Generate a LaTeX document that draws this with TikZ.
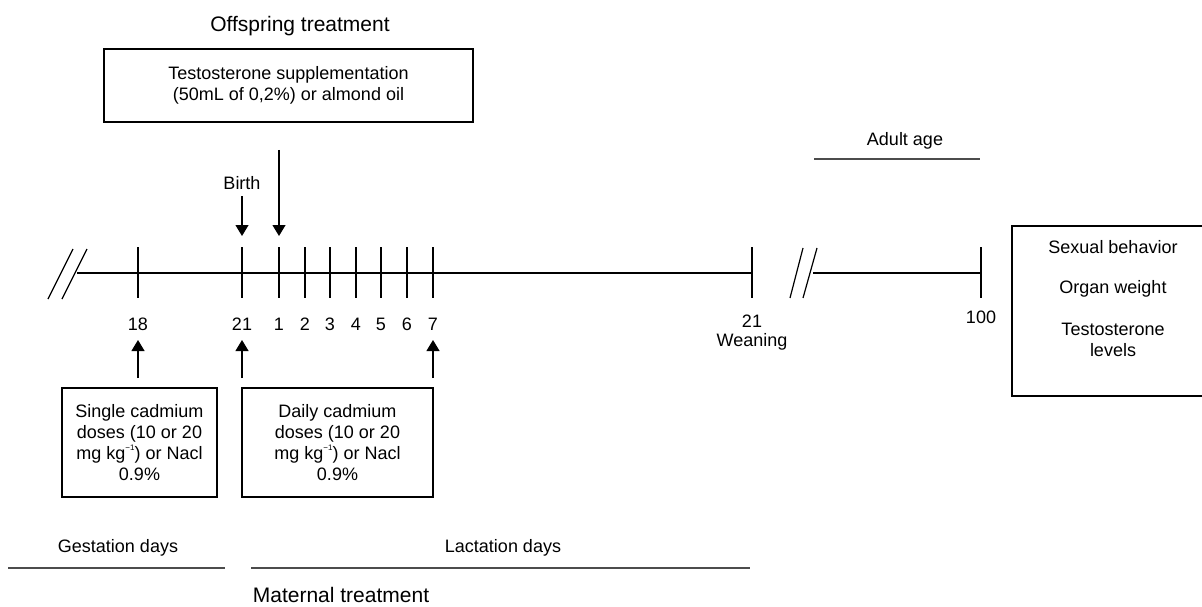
\documentclass[tikz,border=0pt]{standalone}
\usepackage{fontspec}
\setmainfont{Liberation Sans}
\usetikzlibrary{arrows.meta}
\newcommand{\minusone}{\raisebox{0.9ex}{\fontsize{8}{8}\selectfont −1}}
\begin{document}
\begin{tikzpicture}[x=1pt,y=-1pt,
  every node/.style={inner sep=0pt,outer sep=0pt},
  txt/.style={font=\fontsize{18}{21}\selectfont,align=center},
  ttl/.style={font=\fontsize{21}{24}\selectfont},
  box/.style={draw,line width=1.1pt,align=center,font=\fontsize{18}{21}\selectfont},
  ln/.style={line width=1.2pt},
  bar/.style={line width=1.6pt,draw=black!70},
  arr/.style={line width=1.2pt,-{Triangle[width=13pt,length=11pt]}}]
\useasboundingbox (0,0) rectangle (1202,607);
% titles
\node[ttl] (off) at (300,26) {Offspring treatment};
\node[ttl] (mat) at (341,595) {Maternal treatment};
% top box
\node[box,minimum width=369pt,minimum height=73pt] (testo) at (288.5,85.5) {Testosterone supplementation\\(50mL of 0,2\%) or almond oil};
\node[txt] (birth) at (242,183) {Birth};
% timeline coordinates
\foreach \n/\x in {t18/138,t21/242,d1/279,d2/305,d3/330,d4/356,d5/381,d6/407,d7/433,w/752,a/981}{
  \coordinate (\n) at (\x,273);
  \draw[ln] (\x,247) -- (\x,298);
}
\coordinate (s1) at (77,273);
\coordinate (s2) at (813,273);
\draw[ln] (s1) -- (w);
\draw[ln] (s2) -- (a);
% break marks
\draw[ln] (48,299) -- (73,249);
\draw[ln] (62,299) -- (87,249);
\draw[ln] (790,298) -- (803,248);
\draw[ln] (803,298) -- (817,248);
% labels
\foreach \n/\x/\t in {l18/138/18,l21/242/21,l1/279/1,l2/305/2,l3/330/3,l4/356/4,l5/381/5,l6/407/6,l7/433/7}{
  \node[txt] (\n) at (\x,324) {\t};
}
\node[txt] (l21w) at (752,321) {21};
\node[txt] (wean) at (752,342) {Weaning};
\node[txt] (l100) at (981,317) {100};
% down arrows
\coordinate (b1) at (242,236);
\coordinate (b0) at (242,196);
\coordinate (o0) at (279,150);
\coordinate (o1) at (279,236);
\draw[arr] (b0) -- (b1);
\draw[arr] (o0) -- (o1);
% lower boxes
\node[box,minimum width=155pt,minimum height=109pt] (single) at (139.5,442.5) {Single cadmium\\doses (10 or 20\\mg kg\minusone) or Nacl\\0.9\%};
\node[box,minimum width=191pt,minimum height=109pt] (daily) at (337.5,442.5) {Daily cadmium\\doses (10 or 20\\mg kg\minusone) or Nacl\\0.9\%};
% up arrows
\coordinate (u18) at (138,378);
\coordinate (u21) at (242,378);
\coordinate (u7) at (433,378);
\draw[arr] (u18) -- (138,340);
\draw[arr] (u21) -- (242,340);
\draw[arr] (u7) -- (433,340);
% right box
\begin{scope}
\clip (0,0) rectangle (1202,607);
\node[box,minimum width=204pt,minimum height=170pt] (res) at (1114,311) {};
\end{scope}
\node[txt] (sex) at (1113,247) {Sexual behavior};
\node[txt] (org) at (1113,289) {Organ weight};
\node[txt] (tl) at (1113,340) {Testosterone\\levels};
% adult age
\node[txt] (adult) at (905,141) {Adult age};
\coordinate (aa0) at (814,159);
\coordinate (aa1) at (980,159);
\draw[bar] (aa0) -- (aa1);
% bottom
\node[txt] (gest) at (118,548) {Gestation days};
\node[txt] (lact) at (503,548) {Lactation days};
\coordinate (g0) at (8,568);
\coordinate (g1) at (225,568);
\coordinate (c0) at (251,568);
\coordinate (c1) at (750,568);
\draw[bar] (g0) -- (g1);
\draw[bar] (c0) -- (c1);
\end{tikzpicture}
\end{document}
